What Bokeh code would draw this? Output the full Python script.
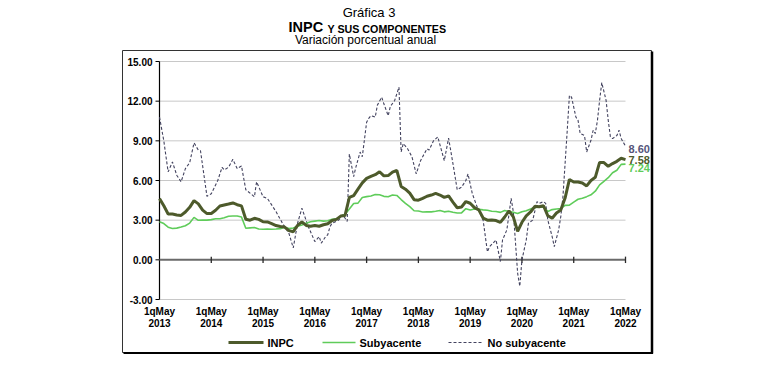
from bokeh.plotting import figure
from bokeh.models import Range1d
from bokeh.core.properties import value
from bokeh.embed import file_html
from bokeh.resources import INLINE

# ---------------- data ----------------
# quincena index: 0 = 1q May 2013, 216 = 1q May 2022 (monthly points at even indices)
x_tick_q = [0, 24, 48, 72, 96, 120, 144, 168, 192, 216]
x_tick_years = ["2013", "2014", "2015", "2016", "2017", "2018", "2019", "2020", "2021", "2022"]
x_tick_prefix = "1qMay"
y_ticks = [15.0, 12.0, 9.0, 6.0, 3.0, 0.0, -3.0]

inpc = [4.63, 4.09, 3.47, 3.46, 3.39, 3.36, 3.62, 3.97,
        4.48, 4.23, 3.76, 3.50, 3.51, 3.75, 4.07, 4.15, 4.22, 4.30, 4.17, 4.08,
        3.07, 3.00, 3.14, 3.06, 2.88, 2.87, 2.74, 2.59, 2.52, 2.48, 2.21, 2.13,
        2.61, 2.87, 2.60, 2.54, 2.60, 2.54, 2.65, 2.73, 2.97, 3.06, 3.31, 3.36,
        4.72, 4.86, 5.35, 5.82, 6.16, 6.31, 6.44, 6.66, 6.35, 6.37, 6.63, 6.77,
        5.55, 5.34, 5.04, 4.55, 4.51, 4.65, 4.81, 4.90, 5.02, 4.90, 4.72, 4.83,
        4.37, 3.94, 4.00, 4.41, 4.28, 3.95, 3.78, 3.16, 3.00, 3.02, 2.97, 2.83,
        3.24, 3.70, 3.25, 2.15, 2.84, 3.33, 3.62, 4.05, 4.01, 4.09, 3.33, 3.15,
        3.54, 3.76, 4.67, 6.08, 5.89, 5.88, 5.81, 5.59, 6.00, 6.24, 7.37, 7.36,
        7.07, 7.28, 7.45, 7.68, 7.58]

subyacente = [2.88, 2.74, 2.47, 2.37, 2.40, 2.48, 2.58, 2.78,
              3.21, 2.99, 3.00, 3.00, 3.04, 3.11, 3.11, 3.18, 3.30, 3.32, 3.32, 3.24,
              2.39, 2.42, 2.44, 2.33, 2.31, 2.32, 2.31, 2.33, 2.36, 2.47, 2.36, 2.41,
              2.54, 2.64, 2.76, 2.88, 2.93, 2.97, 2.93, 2.96, 3.07, 3.10, 3.29, 3.44,
              3.84, 4.26, 4.29, 4.72, 4.78, 4.83, 4.94, 4.92, 4.80, 4.77, 4.90, 4.87,
              4.56, 4.27, 4.02, 3.71, 3.69, 3.62, 3.63, 3.63, 3.67, 3.73, 3.63, 3.68,
              3.60, 3.54, 3.55, 3.87, 3.77, 3.85, 3.82, 3.78, 3.75, 3.68, 3.65, 3.59,
              3.73, 3.66, 3.60, 3.50, 3.64, 3.71, 3.85, 3.97, 3.99, 3.98, 3.66, 3.80,
              3.84, 3.87, 4.12, 4.13, 4.37, 4.58, 4.66, 4.78, 4.92, 5.19, 5.67, 5.94,
              6.21, 6.59, 6.78, 7.22, 7.24]

monthly_q = [2 * i for i in range(len(inpc))]

no_sub_q = [0, 2, 4, 6, 8, 10, 12, 14, 16, 18, 19, 22, 24, 27, 29, 30, 32, 34, 36, 38,
            40, 44, 45, 48, 50, 54, 57, 60, 62, 64, 66, 69, 72, 74, 75, 77, 78, 79, 80, 83,
            85, 87, 88, 90, 91, 93, 94, 96, 97, 98, 100, 101, 103, 104, 106, 107, 109, 111, 112, 113,
            115, 117, 119, 121, 124, 125, 127, 129, 130, 132, 134, 136, 138, 140, 142, 143, 145, 147, 150, 152,
            153, 156, 158, 159, 161, 163, 164, 166, 167, 168, 170, 171, 173, 175, 176, 178, 179, 180, 182, 183,
            185, 186, 187, 189, 190, 191, 193, 194, 195, 197, 198, 200, 201, 202, 203, 204, 205, 207, 208, 209,
            210, 212, 213, 214, 216]
no_sub = [10.8, 9.0, 6.65, 7.4, 6.4, 5.9, 6.9, 7.35, 8.85, 8.3, 8.25, 4.8, 5.0, 6.0, 7.0, 6.8, 7.0, 7.6, 6.9, 7.1,
          5.3, 4.77, 5.9, 4.77, 4.65, 3.65, 2.77, 2.0, 0.9, 2.77, 3.9, 2.5, 1.38, 1.76, 1.26, 1.76, 1.9, 2.5, 2.77, 3.0,
          3.4, 2.9, 8.0, 6.3, 7.0, 8.15, 7.8, 10.4, 10.7, 10.9, 10.8, 11.7, 12.3, 11.8, 10.9, 11.6, 12.05, 13.06, 8.16, 8.8,
          8.4, 7.8, 6.5, 7.5, 8.4, 8.3, 9.0, 9.3, 8.7, 7.5, 9.2, 7.3, 5.3, 5.5, 6.0, 6.5, 5.0, 4.1, 3.0, 0.6,
          1.0, 1.5, -0.13, 1.5, 2.26, 4.65, 3.64, -1.0, -2.0, 0.0, 1.5, 2.77, 3.0, 4.4, 4.27, 4.4, 4.27, 3.0, 1.76, 1.0,
          2.26, 3.26, 4.77, 9.8, 12.43, 12.3, 10.8, 10.55, 9.55, 9.4, 8.16, 9.04, 9.8, 9.55, 10.55, 12.06, 13.4, 12.06, 10.55, 9.3,
          9.17, 9.4, 9.8, 9.17, 8.6]

series_names = ["INPC", "Subyacente", "No subyacente"]

# ---------------- geometry (page pixels -> data) ----------------
PX_Q0, PX_Q216 = 159.0, 625.0
KX = (PX_Q216 - PX_Q0) / 216.0
KY = (299.0 - 61.0) / 18.0
PY_ZERO = 299.0 - 3.0 * KY


def X(px):
    return (px - PX_Q0) / KX


def Y(py):
    return (PY_ZERO - py) / KY


W, H = 768, 362
p = figure(width=W, height=H, output_backend="svg", toolbar_location=None,
           x_range=Range1d(X(0), X(W)), y_range=Range1d(Y(H), Y(0)),
           x_axis_type=None, y_axis_type=None, min_border=0)
p.outline_line_color = None
p.xgrid.visible = False
p.ygrid.visible = False
p.background_fill_color = "white"
p.border_fill_color = "white"

FONT = value("Liberation Sans")
C_INPC = "#4d5a2b"
C_SUB = "#5fcc5a"
C_NO = "#43435f"

q0, q1 = monthly_q[0], monthly_q[-1]

# outer box with shadow
p.quad(left=X(122), right=X(651), top=Y(50), bottom=Y(352), fill_color=None,
       line_color="#333333", line_width=1)
p.segment(x0=X(651.5), x1=X(651.5), y0=Y(51), y1=Y(353), line_color="black", line_width=2.5)
p.segment(x0=X(123), x1=X(652.5), y0=Y(352.5), y1=Y(352.5), line_color="black", line_width=2)

# grid lines
grid_vals = [v for v in y_ticks if v != 0]
p.segment(x0=[q0] * len(grid_vals), x1=[q1] * len(grid_vals), y0=grid_vals, y1=grid_vals,
          line_color="#c8c8c8", line_width=1)

# y axis
p.segment(x0=q0, x1=q0, y0=min(y_ticks), y1=max(y_ticks), line_color="black", line_width=1.2)
p.segment(x0=[X(155)] * len(y_ticks), x1=[q0] * len(y_ticks), y0=y_ticks, y1=y_ticks,
          line_color="black", line_width=1)
p.text(x=[X(152)] * len(y_ticks), y=y_ticks, text=[f"{v:.2f}" for v in y_ticks],
       text_align="right", text_baseline="middle", text_font=FONT, text_font_style="bold",
       text_font_size="10px", text_color="black")

# zero axis with crossing ticks
p.segment(x0=q0, x1=q1, y0=0, y1=0, line_color="#6a6a6a", line_width=2)
tk = 3.2 / KY
p.segment(x0=x_tick_q[1:], x1=x_tick_q[1:], y0=[-tk] * (len(x_tick_q) - 1), y1=[tk] * (len(x_tick_q) - 1),
          line_color="#2a2a2a", line_width=1.3)

# x labels
p.text(x=x_tick_q, y=[Y(310.5)] * len(x_tick_q), text=[x_tick_prefix] * len(x_tick_q),
       text_align="center", text_baseline="middle", text_font=FONT, text_font_style="bold",
       text_font_size="10px", text_color="black")
p.text(x=x_tick_q, y=[Y(322)] * len(x_tick_q), text=x_tick_years,
       text_align="center", text_baseline="middle", text_font=FONT, text_font_style="bold",
       text_font_size="10px", text_color="black")

# series
p.line(x=no_sub_q, y=no_sub, line_color=C_NO, line_width=1.1, line_dash="3 2")
p.line(x=monthly_q, y=subyacente, line_color=C_SUB, line_width=1.6)
p.line(x=monthly_q, y=inpc, line_color=C_INPC, line_width=3)

# end labels
p.text(x=[X(628)], y=[no_sub[-1] - 2.5 / KY], text=[f"{no_sub[-1]:.2f}"], text_align="left",
       text_baseline="middle", text_font=FONT, text_font_style="bold", text_font_size="11px",
       text_color="#55557a")
p.text(x=[X(628)], y=[inpc[-1]], text=[f"{inpc[-1]:.2f}"], text_align="left",
       text_baseline="middle", text_font=FONT, text_font_style="bold", text_font_size="11px",
       text_color=C_INPC)
p.text(x=[X(628)], y=[subyacente[-1] - 3.5 / KY], text=[f"{subyacente[-1]:.2f}"], text_align="left",
       text_baseline="middle", text_font=FONT, text_font_style="bold", text_font_size="11px",
       text_color=C_SUB)

# legend
ly = Y(342)
p.segment(x0=X(228), x1=X(263), y0=ly, y1=ly, line_color=C_INPC, line_width=3)
p.segment(x0=X(322), x1=X(355), y0=ly, y1=ly, line_color=C_SUB, line_width=1.6)
p.segment(x0=X(448), x1=X(483), y0=ly, y1=ly, line_color=C_NO, line_width=1.1, line_dash="3 2")
p.text(x=[X(267), X(359), X(487)], y=[ly] * 3, text=series_names, text_align="left",
       text_baseline="middle", text_font=FONT, text_font_style="bold", text_font_size="11px",
       text_color="black")

# titles
p.text(x=[X(368.5)], y=[Y(11.5)], text=["Gráfica 3"], text_align="center", text_baseline="middle",
       text_font=FONT, text_font_size="13px", text_color="black")
p.text(x=[X(288)], y=[Y(26.5)], text=["INPC"], text_align="left", text_baseline="middle",
       text_font=FONT, text_font_style="bold", text_font_size="14.5px", text_color="black")
p.text(x=[X(327)], y=[Y(28)], text=["Y SUS COMPONENTES"], text_align="left", text_baseline="middle",
       text_font=FONT, text_font_style="bold", text_font_size="10.7px", text_color="black")
p.text(x=[X(365)], y=[Y(39.5)], text=["Variación porcentual anual"], text_align="center",
       text_baseline="middle", text_font=FONT, text_font_size="12px", text_color="black")

open("out.html", "w").write(file_html(p, INLINE))
